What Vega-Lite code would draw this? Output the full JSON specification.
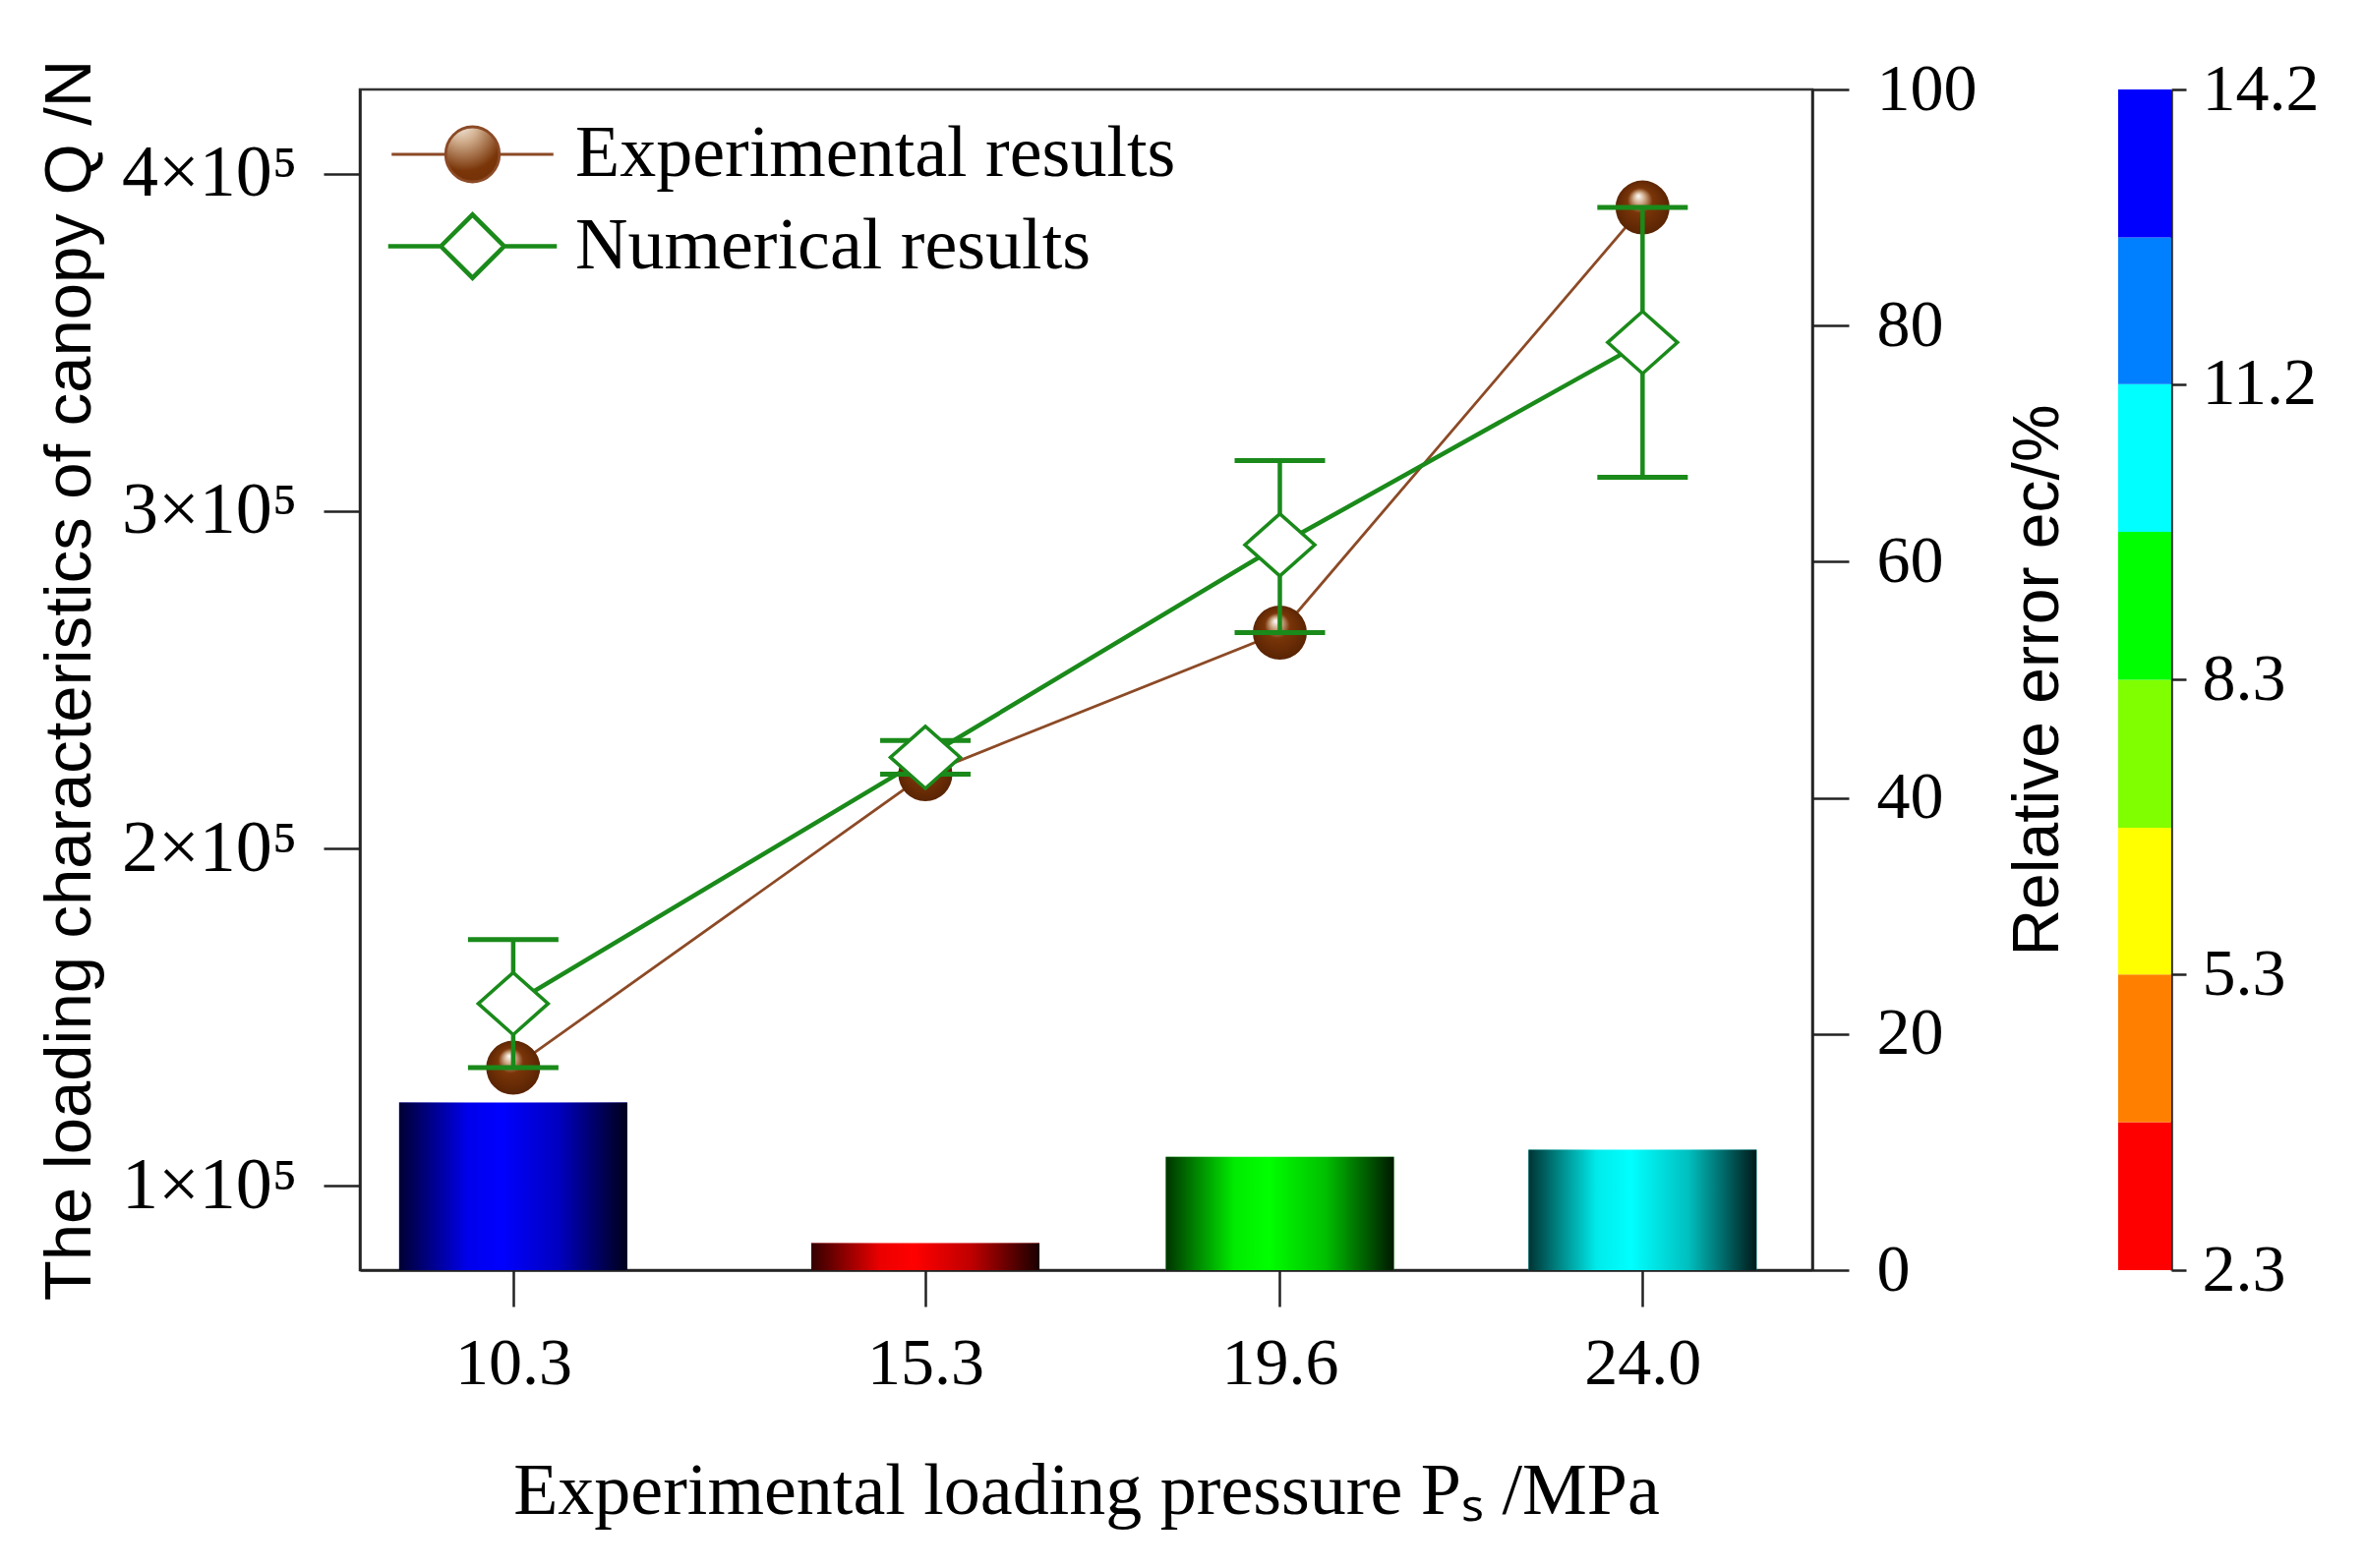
{
  "$schema": "https://vega.github.io/schema/vega-lite/v6.json",
  "background": "white",
  "padding": {"left": 35, "top": 55, "right": 5, "bottom": 5},
  "bounds": "flush",
  "spacing": 311,
  "config": {
    "font": "Liberation Serif",
    "view": {"stroke": "#333333", "strokeWidth": 2.5},
    "axis": {
      "labelFont": "Liberation Serif",
      "labelFontSize": 68,
      "labelColor": "black",
      "domainColor": "#222222",
      "domainWidth": 2.5,
      "tickColor": "#222222",
      "tickWidth": 2.5,
      "tickSize": 37,
      "grid": false,
      "titleColor": "black",
      "titleFontWeight": "normal"
    }
  },
  "datasets": {
    "err": [
      {"P": 10.3, "lo": 135000, "hi": 173000, "e": 14.2},
      {"P": 15.3, "lo": 222000, "hi": 232000, "e": 2.3},
      {"P": 19.6, "lo": 264000, "hi": 315000, "e": 9.6},
      {"P": 24.0, "lo": 310000, "hi": 390000, "e": 10.2}
    ],
    "pts": [
      {"P": 10.3, "series": "Experimental results", "Q": 135000},
      {"P": 15.3, "series": "Experimental results", "Q": 222000},
      {"P": 19.6, "series": "Experimental results", "Q": 264000},
      {"P": 24.0, "series": "Experimental results", "Q": 390000},
      {"P": 10.3, "series": "Numerical results", "Q": 154000},
      {"P": 15.3, "series": "Numerical results", "Q": 227000},
      {"P": 19.6, "series": "Numerical results", "Q": 290000},
      {"P": 24.0, "series": "Numerical results", "Q": 350000}
    ],
    "cbar": [
      {"lo": 2.3, "hi": 3.79},
      {"lo": 3.79, "hi": 5.28},
      {"lo": 5.28, "hi": 6.76},
      {"lo": 6.76, "hi": 8.25},
      {"lo": 8.25, "hi": 9.74},
      {"lo": 9.74, "hi": 11.23},
      {"lo": 11.23, "hi": 12.71},
      {"lo": 12.71, "hi": 14.2}
    ]
  },
  "resolve": {"scale": {"x": "independent", "y": "independent", "color": "shared"}},
  "hconcat": [
    {
      "width": 1477,
      "height": 1201,
      "layer": [
        {
          "data": {"name": "err"},
          "layer": [
            {
              "mark": {"type": "bar", "orient": "vertical", "size": 232},
              "encoding": {
                "x": {
                  "field": "P",
                  "type": "quantitative",
                  "title": "Experimental loading pressure Pₛ /MPa",
                  "scale": {"domain": [8.5, 26], "nice": false, "zero": false},
                  "axis": {
                    "values": [10.3, 15.3, 19.6, 24.0],
                    "format": ".1f",
                    "labelPadding": 24,
                    "titleFont": "Liberation Serif",
                    "titleFontSize": 74,
                    "titlePadding": 60
                  }
                },
                "y": {
                  "field": "e",
                  "type": "quantitative",
                  "title": "Relative error ec/%",
                  "scale": {"domain": [0, 100], "nice": false},
                  "axis": {
                    "orient": "right",
                    "values": [0, 20, 40, 60, 80, 100],
                    "labelPadding": 28,
                    "titleFont": "Liberation Sans",
                    "titleFontSize": 66,
                    "titleAngle": 270,
                    "titleBaseline": "top",
                    "titlePadding": 30
                  }
                },
                "color": {
                  "field": "e",
                  "type": "quantitative",
                  "legend": null,
                  "scale": {
                    "type": "threshold",
                    "domain": [3.79, 5.28, 6.76, 8.25, 9.74, 11.23, 12.71],
                    "range": ["#ff0000", "#ff8000", "#ffff00", "#80ff00", "#00ff00", "#00ffff", "#0080ff", "#0000ff"]
                  }
                }
              }
            },
            {
              "mark": {
                "type": "bar",
                "orient": "vertical",
                "size": 232,
                "fill": {
                  "gradient": "linear",
                  "x1": 0, "y1": 0, "x2": 1, "y2": 0,
                  "stops": [
                    {"offset": 0, "color": "rgba(0,0,0,0.8)"},
                    {"offset": 0.3, "color": "rgba(0,0,0,0.08)"},
                    {"offset": 0.45, "color": "rgba(0,0,0,0)"},
                    {"offset": 0.7, "color": "rgba(0,0,0,0.25)"},
                    {"offset": 1, "color": "rgba(0,0,0,0.9)"}
                  ]
                }
              },
              "encoding": {
                "x": {"field": "P", "type": "quantitative", "title": "Experimental loading pressure Pₛ /MPa"},
                "y": {"field": "e", "type": "quantitative", "title": "Relative error ec/%"}
              }
            }
          ]
        },
        {
          "layer": [
            {
              "data": {"name": "pts"},
              "mark": {"type": "line"},
              "encoding": {
                "x": {"field": "P", "type": "quantitative", "title": "Experimental loading pressure Pₛ /MPa"},
                "y": {
                  "field": "Q",
                  "type": "quantitative",
                  "title": "The loading characteristics of canopy Q /N",
                  "scale": {"domain": [75000, 425000], "nice": false, "zero": false},
                  "axis": {
                    "orient": "left",
                    "values": [100000, 200000, 300000, 400000],
                    "labelExpr": "(datum.value / 100000) + '×10⁵'",
                    "labelFontSize": 74,
                    "labelPadding": 27,
                    "titleFont": "Liberation Sans",
                    "titleFontSize": 67,
                    "titlePadding": 61
                  }
                },
                "strokeWidth": {
                  "field": "series",
                  "type": "ordinal",
                  "legend": null,
                  "scale": {
                    "domain": ["Experimental results", "Numerical results"],
                    "range": [2.8, 4.5]
                  }
                },
                "stroke": {
                  "field": "series",
                  "type": "nominal",
                  "scale": {
                    "domain": ["Experimental results", "Numerical results"],
                    "range": ["#8c4a26", "#1a8a1a"]
                  },
                  "legend": {
                    "title": null,
                    "orient": "none",
                    "legendX": 77,
                    "legendY": 29,
                    "padding": 0,
                    "labelFont": "Liberation Serif",
                    "labelFontSize": 74,
                    "labelColor": "black",
                    "labelLimit": 1200,
                    "labelOffset": 67,
                    "symbolSize": 4900,
                    "symbolStrokeWidth": 3.5,
                    "rowPadding": 15,
                    "encode": {
                      "symbols": {
                        "update": {
                          "shape": [
                            {"test": "datum.value === 'Experimental results'", "value": "M-2.35,0L-0.78,0M0.78,0L2.35,0M0.78,0A0.78,0.8 0 1 1 -0.78,0A0.78,0.8 0 1 1 0.78,0Z"},
                            {"value": "M-2.45,0L-0.92,0M0.92,0L2.45,0M-0.92,0L0,-0.92L0.92,0L0,0.92Z"}
                          ],
                          "fill": [
                            {"test": "datum.value === 'Experimental results'", "value": {
                              "gradient": "radial",
                              "x1": 0.42, "y1": 0.28, "r1": 0,
                              "x2": 0.5, "y2": 0.5, "r2": 0.55,
                              "stops": [
                                {"offset": 0, "color": "#ffffff"},
                                {"offset": 0.18, "color": "#d2b090"},
                                {"offset": 0.42, "color": "#7a3508"},
                                {"offset": 1, "color": "#552203"}
                              ]
                            }},
                            {"value": "white"}
                          ],
                          "fillOpacity": {"value": 1}
                        }
                      }
                    }
                  }
                }
              }
            },
            {
              "data": {"name": "pts"},
              "transform": [{"filter": "datum.series === 'Experimental results'"}],
              "mark": {
                "type": "point",
                "shape": "circle",
                "size": 3025,
                "filled": true,
                "opacity": 1,
                "strokeWidth": 0,
                "fill": {
                  "gradient": "radial",
                  "x1": 0.42, "y1": 0.28, "r1": 0,
                  "x2": 0.5, "y2": 0.5, "r2": 0.55,
                  "stops": [
                    {"offset": 0, "color": "#ffffff"},
                    {"offset": 0.18, "color": "#d2b090"},
                    {"offset": 0.42, "color": "#7a3508"},
                    {"offset": 1, "color": "#552203"}
                  ]
                }
              },
              "encoding": {
                "x": {"field": "P", "type": "quantitative", "title": "Experimental loading pressure Pₛ /MPa"},
                "y": {"field": "Q", "type": "quantitative", "title": "The loading characteristics of canopy Q /N"}
              }
            },
            {
              "data": {"name": "err"},
              "mark": {"type": "rule", "color": "#1a8a1a", "strokeWidth": 4.5},
              "encoding": {
                "x": {"field": "P", "type": "quantitative", "title": "Experimental loading pressure Pₛ /MPa"},
                "y": {"field": "lo", "type": "quantitative", "title": "The loading characteristics of canopy Q /N"},
                "y2": {"field": "hi"}
              }
            },
            {
              "data": {"name": "err"},
              "mark": {"type": "tick", "orient": "horizontal", "size": 92, "thickness": 5, "color": "#1a8a1a", "opacity": 1},
              "encoding": {
                "x": {"field": "P", "type": "quantitative", "title": "Experimental loading pressure Pₛ /MPa"},
                "y": {"field": "lo", "type": "quantitative", "title": "The loading characteristics of canopy Q /N"}
              }
            },
            {
              "data": {"name": "err"},
              "mark": {"type": "tick", "orient": "horizontal", "size": 92, "thickness": 5, "color": "#1a8a1a", "opacity": 1},
              "encoding": {
                "x": {"field": "P", "type": "quantitative", "title": "Experimental loading pressure Pₛ /MPa"},
                "y": {"field": "hi", "type": "quantitative", "title": "The loading characteristics of canopy Q /N"}
              }
            },
            {
              "data": {"name": "pts"},
              "transform": [{"filter": "datum.series === 'Numerical results'"}],
              "mark": {
                "type": "point",
                "shape": "M-1,0L0,-0.89L1,0L0,0.89Z",
                "size": 5041,
                "filled": true,
                "opacity": 1,
                "fill": "white",
                "stroke": "#1a8a1a",
                "strokeWidth": 3.5
              },
              "encoding": {
                "x": {"field": "P", "type": "quantitative", "title": "Experimental loading pressure Pₛ /MPa"},
                "y": {"field": "Q", "type": "quantitative", "title": "The loading characteristics of canopy Q /N"}
              }
            }
          ]
        }
      ],
      "resolve": {"scale": {"y": "independent"}}
    },
    {
      "data": {"name": "cbar"},
      "width": 54,
      "height": 1201,
      "view": {"stroke": null},
      "mark": "rect",
      "encoding": {
        "y": {
          "field": "lo",
          "type": "quantitative",
          "scale": {"domain": [2.3, 14.2], "nice": false, "zero": false},
          "axis": {
            "orient": "right",
            "title": null,
            "values": [2.3, 5.28, 8.25, 11.23, 14.2],
            "format": ".1f",
            "tickSize": 15,
            "labelPadding": 16
          }
        },
        "y2": {"field": "hi"},
        "color": {
          "field": "lo",
          "type": "quantitative",
          "legend": null,
          "scale": {
            "type": "threshold",
            "domain": [3.79, 5.28, 6.76, 8.25, 9.74, 11.23, 12.71],
            "range": ["#ff0000", "#ff8000", "#ffff00", "#80ff00", "#00ff00", "#00ffff", "#0080ff", "#0000ff"]
          }
        }
      }
    }
  ]
}
